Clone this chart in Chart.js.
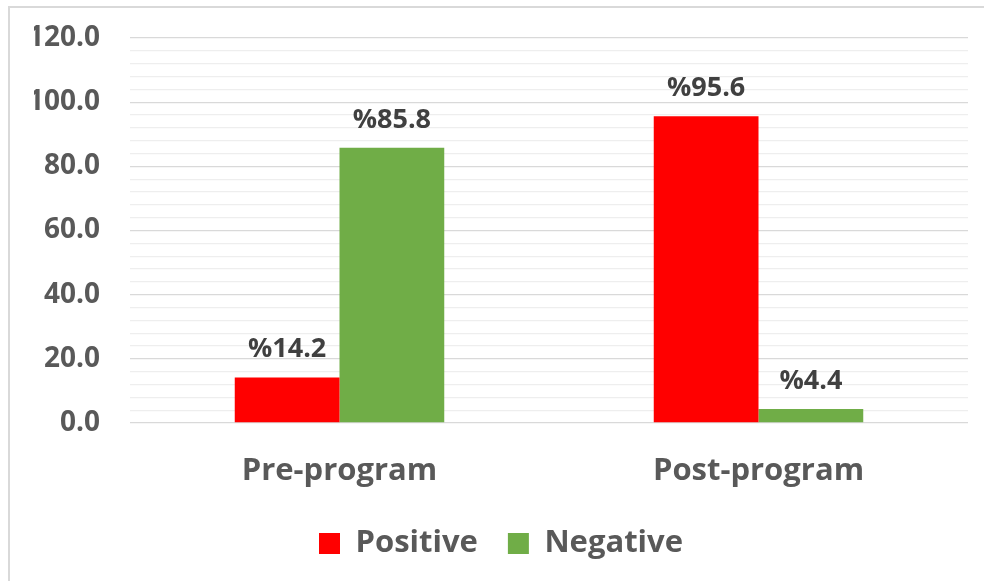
<!DOCTYPE html>
<html>
<head>
<meta charset="utf-8">
<script src="https://cdn.jsdelivr.net/npm/chart.js@4.4.1/dist/chart.umd.min.js"></script>
<style>
    html, body { margin: 0; padding: 0; background: #fff; }
    #wrap { position: relative; width: 984px; height: 581px; overflow: hidden; }
    #frame {
        position: absolute; left: 8px; top: 6px; width: 1000px; height: 600px;
        border-left: 2px solid #d9d9d9; border-top: 2px solid #d9d9d9;
    }
    canvas { position: absolute; left: 0; top: 0; }
</style>
</head>
<body>
<div id="wrap">
    <div id="frame"></div>
    <canvas id="chart" width="984" height="581"></canvas>
</div>
<script>
// Dados do gráfico
const categories = ['Pre-program', 'Post-program'];
const positive = [14.2, 95.6];
const negative = [85.8, 4.4];
const seriesNames = ['Positive', 'Negative'];

const textGray = '#595959';
const FONT = "'Open Sans', sans-serif";

// Rótulos de dados acima das barras
const barLabels = {
    id: 'barLabels',
    afterDatasetsDraw(chart) {
        const ctx = chart.ctx;
        ctx.save();
        ctx.font = 'bold 27px ' + FONT;
        ctx.fillStyle = '#404040';
        ctx.textAlign = 'center';
        ctx.textBaseline = 'alphabetic';
        chart.data.datasets.forEach((ds, i) => {
            chart.getDatasetMeta(i).data.forEach((bar, j) => {
                ctx.fillText('%' + ds.data[j].toFixed(1), bar.x, bar.y - 20);
            });
        });
        ctx.restore();
    }
};

new Chart(document.getElementById('chart').getContext('2d'), {
    type: 'bar',
    data: {
        labels: categories,
        datasets: [{
            label: seriesNames[0],
            data: positive,
            backgroundColor: '#ff0000',
            categoryPercentage: 0.5,
            barPercentage: 1.0
        }, {
            label: seriesNames[1],
            data: negative,
            backgroundColor: '#70ad47',
            categoryPercentage: 0.5,
            barPercentage: 1.0
        }]
    },
    options: {
        responsive: false,
        animation: false,
        layout: { padding: { top: 38, right: 16, left: 34, bottom: 12 } },
        scales: {
            x: {
                grid: { display: false },
                border: { display: false },
                ticks: {
                    color: textGray,
                    font: { family: FONT, size: 31, weight: 'bold' },
                    padding: 22
                },
                afterFit: scale => { scale.height = 75; }
            },
            y: {
                min: 0,
                max: 120,
                border: { display: false },
                grid: {
                    drawTicks: true,
                    tickLength: 26,
                    tickColor: 'transparent',
                    color: c => (c.tick && c.tick.value % 20 === 0) ? '#d9d9d9' : '#eeeeee',
                    lineWidth: 1.3
                },
                ticks: {
                    stepSize: 4,
                    autoSkip: false,
                    padding: 4,
                    color: textGray,
                    font: { family: FONT, size: 28, weight: 'bold' },
                    callback: v => v % 20 === 0 ? v.toFixed(1) : ''
                },
                afterFit: scale => { scale.width = 96; }
            }
        },
        plugins: {
            legend: {
                position: 'bottom',
                labels: {
                    color: textGray,
                    font: { family: FONT, size: 31, weight: 'bold' },
                    boxWidth: 21,
                    boxHeight: 21,
                    padding: 30
                }
            },
            tooltip: { enabled: false }
        }
    },
    plugins: [barLabels]
});
</script>
</body>
</html>
